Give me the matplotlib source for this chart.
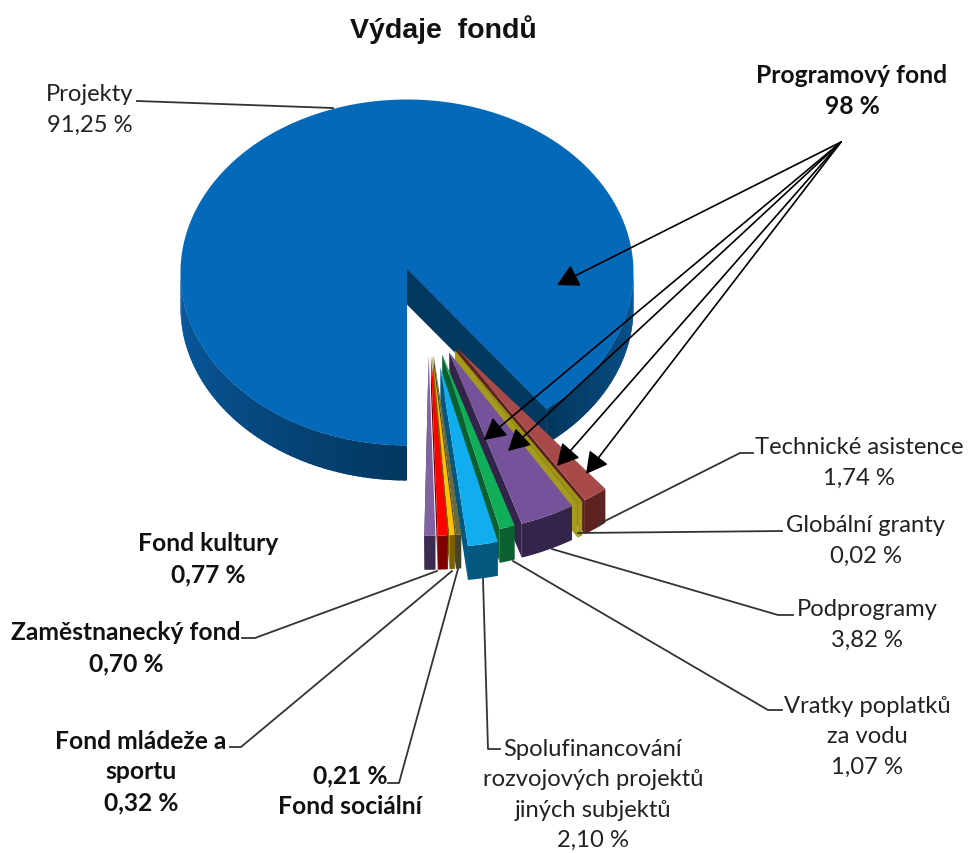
import numpy as np
import matplotlib
matplotlib.use('Agg')
import matplotlib.pyplot as plt
from matplotlib.colors import to_rgb

main_name = 'Projekty'
main_value = 91.25
program_fund_name = 'Programový fond'
program_fund_value = 98

names = ['Technické asistence', 'Globální granty', 'Podprogramy', 'Vratky poplatků\nza vodu',
         'Spolufinancování\nrozvojových projektů\njiných subjektů', 'Fond sociální',
         'Fond mládeže a\nsportu', 'Zaměstnanecký fond', 'Fond kultury']
values = [1.74, 0.02, 3.82, 1.07, 2.10, 0.21, 0.32, 0.70, 0.77]

top_colors = ['#A84A4A', '#9C9412', '#75529A', '#10AE58', '#10AEEF', '#6B6B3A', '#FFC000', '#FF0000', '#8064A2']
side_colors = ['#5E2320', '#A39A1E', '#33244A', '#0B6030', '#04587F', '#45452A', '#7F6000', '#800000', '#3A2C50']
explode = [50, 50, 50, 50, 66, 50, 50, 50, 50]
bold = [False, False, False, False, False, True, True, True, True]

# layout, in picture pixels
label_pos = [(859, 463), (866, 541), (867, 625), (867, 737), (593, 795), (350, 791), (141, 772), (126, 648), (208, 559)]
leaders = [[(597, 526), (740, 454), (753, 454)],
           [(578, 534), (782, 532)],
           [(552, 550), (778, 616), (793, 616)],
           [(513, 562), (768, 711), (782, 711)],
           [(483, 580), (488, 750), (500, 750)],
           [(458, 570), (399, 784), (388, 784)],
           [(452, 572), (241, 748), (230, 748)],
           [(437, 572), (255, 639), (242, 639)]]
arrow_from = (841, 143)
arrow_to = [(557, 286), (484, 441), (508, 452), (557, 467), (586, 475)]

cx, cy = 407, 273.5
apex_y = 270
rx, ry = 226.5, 173
depth = 35
squash = ry / rx
group_shift = (21.4, 45.2)
slice_scale = 1.04
slice_depth = 34
min_span = 1.3
text_size = 17.1
bold_size = 17.7
line_gap = 1.55
bold_gap = 1.42
text_font = 'Lato'


def arc(x0, y0, a, b, t0, t1):
    # angle counted from straight down, growing towards the right
    t = np.radians(np.linspace(t0, t1, max(int(abs(t1 - t0)) * 2, 2)))
    return x0 + a * np.sin(t), y0 + b * np.cos(t)


def mix(c0, c1, f):
    return tuple((1 - f) * np.array(to_rgb(c0)) + f * np.array(to_rgb(c1)))


total = main_value + sum(values)
gap = sum(values) / total * 360

fig = plt.figure(figsize=(9.69, 8.54), dpi=100)
ax = fig.add_axes([0, 0, 1, 1])
ax.set_xlim(0, 969)
ax.set_ylim(854, 0)
ax.axis('off')

# main slice: outer wall in thin steps so the shade can run around it
for t0, t1, c0, c1 in [(270, 360, '#0A5CA4', '#03375F'), (gap, 90, '#03385F', '#0A5794')]:
    steps = np.linspace(t0, t1, 70)
    for i in range(len(steps) - 1):
        xs, ys = arc(cx, cy, rx, ry, steps[i], min(steps[i + 1] + 1.0, t1))
        ax.fill(np.r_[xs, xs[::-1]], np.r_[ys, ys[::-1] + depth],
                color=mix(c0, c1, i / (len(steps) - 2)), lw=0)

# cut wall, then top face
ex, ey = arc(cx, cy, rx, ry, gap, gap + 1)
ax.fill([cx, ex[0], ex[0], cx], [apex_y, ey[0], ey[0] + depth, apex_y + depth],
        color='#03385F', ec='#03385F', lw=0.6)
xs, ys = arc(cx, cy, rx, ry, gap, 360)
ax.fill(np.r_[cx, xs], np.r_[apex_y, ys], color='#0569B9', lw=0)

# the exploded slices, right to left so each one covers the wall of the last
t_end = gap + 0.9
for i, v in enumerate(values):
    span = max(v / total * 360, min_span)
    t_start = t_end - span
    mid = np.radians((t_start + t_end) / 2)
    ax0 = cx + group_shift[0] + explode[i] * np.sin(mid)
    ay0 = cy + group_shift[1] + explode[i] * np.cos(mid) * squash
    xs, ys = arc(ax0, ay0, rx * slice_scale, ry * slice_scale, t_start, t_end)
    # outer wall and left side wall
    ax.fill(np.r_[xs, xs[::-1]], np.r_[ys, ys[::-1] + slice_depth], color=side_colors[i], lw=0)
    ax.fill([ax0, xs[0], xs[0], ax0], [ay0, ys[0], ys[0] + slice_depth, ay0 + slice_depth],
            color=side_colors[i], lw=0)
    ax.fill(np.r_[ax0, xs], np.r_[ay0, ys], color=top_colors[i], lw=0)
    t_end = t_start

# leader lines
ax.plot([137, 333], [102, 109], color='#333333', lw=1.3)
for pts in leaders:
    ax.plot([p[0] for p in pts], [p[1] for p in pts], color='#333333', lw=1.3)

# arrows from the programme fund label
for tip in arrow_to:
    ax.annotate('', xy=tip, xytext=arrow_from,
                arrowprops=dict(arrowstyle='-|>,head_length=0.55,head_width=0.3', color='black',
                                lw=1.2, mutation_scale=24, shrinkA=0, shrinkB=0))

# texts
ax.text(443, 30, 'Výdaje  fondů', family='Liberation Sans', fontweight='bold', fontsize=20.5,
        ha='center', va='center', color='#111111')


def pct(v):
    return f'{v:.2f}'.replace('.', ',') + ' %'


ax.text(90, 110, main_name + '\n' + pct(main_value), family=text_font, fontsize=text_size,
        ha='center', va='center', linespacing=line_gap, color='#222222')
ax.text(852, 91, program_fund_name + '\n' + str(program_fund_value) + ' %', family=text_font,
        fontweight='bold', fontsize=bold_size, ha='center', va='center', linespacing=bold_gap,
        color='#111111')
for name, v, pos, b in zip(names, values, label_pos, bold):
    txt = name + '\n' + pct(v)
    if name == 'Fond sociální':
        txt = pct(v) + '\n' + name
    ax.text(pos[0], pos[1], txt, family=text_font, fontweight='bold' if b else 'normal',
            fontsize=bold_size if b else text_size, ha='center', va='center',
            linespacing=bold_gap if b else line_gap, color='#111111' if b else '#222222')

fig.savefig('out.png', dpi=100)
